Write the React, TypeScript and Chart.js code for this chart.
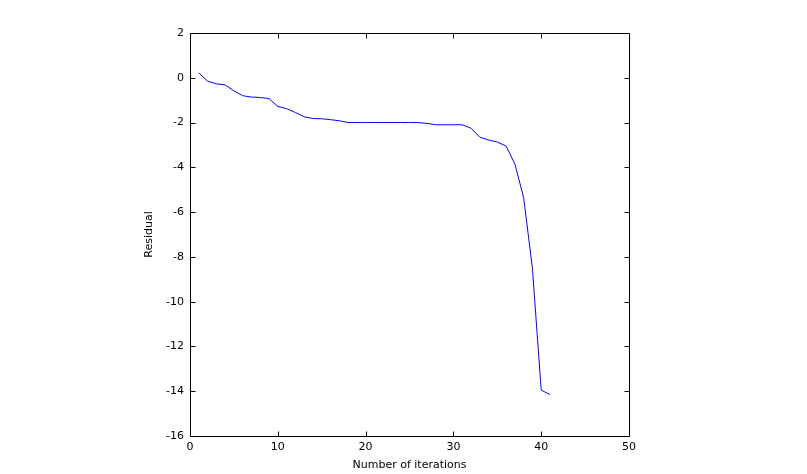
import React, { useEffect, useRef } from "react";
import { Chart, registerables } from "chart.js";

Chart.register(...registerables);

const iterations: number[] = [
  1, 2, 3, 4, 5, 6, 7, 8, 9, 10, 11, 12, 13, 14, 15, 16, 17, 18, 19, 20, 21,
  22, 23, 24, 25, 26, 27, 28, 29, 30, 31, 32, 33, 34, 35, 36, 37, 38, 39, 40, 41,
];
const residuals: number[] = [
  0.22, -0.15, -0.27, -0.32, -0.58, -0.8, -0.86, -0.88, -0.93, -1.28, -1.38,
  -1.55, -1.74, -1.82, -1.83, -1.87, -1.92, -2.0, -2.0, -2.0, -2.0, -2.0, -2.0,
  -2.0, -2.0, -2.0, -2.04, -2.1, -2.1, -2.1, -2.1, -2.25, -2.65, -2.78, -2.87,
  -3.05, -3.85, -5.35, -8.5, -13.95, -14.15,
];
const xTicks = { min: 0, max: 50, step: 10 };
const yTicks = { min: -16, max: 2, step: 2 };
const xTitle = "Number of iterations";
const yTitle = "Residual";

const FONT = "'DejaVu Sans', sans-serif";

const boxPlugin = {
  id: "matlabBox",
  afterDatasetsDraw(chart: any) {
    const { ctx, chartArea, scales } = chart;
    const l = Math.round(chartArea.left) + 0.5;
    const r = Math.round(chartArea.right) + 0.5;
    const t = Math.round(chartArea.top) + 0.5;
    const b = Math.round(chartArea.bottom) + 0.5;
    const len = 5;
    ctx.save();
    ctx.strokeStyle = "#000";
    ctx.lineWidth = 1;
    ctx.beginPath();
    ctx.rect(l, t, r - l, b - t);
    scales.x.ticks.forEach((tk: any) => {
      const px = Math.round(scales.x.getPixelForValue(tk.value)) + 0.5;
      ctx.moveTo(px, b);
      ctx.lineTo(px, b - len);
      ctx.moveTo(px, t);
      ctx.lineTo(px, t + len);
    });
    scales.y.ticks.forEach((tk: any) => {
      const py = Math.round(scales.y.getPixelForValue(tk.value)) + 0.5;
      ctx.moveTo(l, py);
      ctx.lineTo(l + len, py);
      ctx.moveTo(r, py);
      ctx.lineTo(r - len, py);
    });
    ctx.stroke();
    ctx.restore();
  },
};

export default function App() {
  const ref = useRef<HTMLCanvasElement | null>(null);
  useEffect(() => {
    if (!ref.current) return;
    const points = iterations.map((x, i) => ({ x, y: residuals[i] }));
    const chart = new Chart(ref.current, {
      type: "line",
      data: {
        datasets: [
          {
            data: points,
            borderColor: "#0000ff",
            borderWidth: 1,
            pointRadius: 0,
            tension: 0,
            fill: false,
          },
        ],
      },
      options: {
        responsive: false,
        animation: false,
        events: [],
        layout: { padding: { left: 0, right: 178, top: 33, bottom: 0 } },
        plugins: { legend: { display: false }, tooltip: { enabled: false } },
        scales: {
          x: {
            type: "linear",
            min: xTicks.min,
            max: xTicks.max,
            grid: { display: false, drawTicks: false },
            border: { display: false },
            ticks: {
              stepSize: xTicks.step,
              color: "#000",
              font: { family: FONT, size: 11 },
              padding: 5,
              maxRotation: 0,
              callback: (v: any) => String(v),
            },
            title: {
              display: true,
              text: xTitle,
              color: "#000",
              font: { family: FONT, size: 11 },
              padding: { top: 0, bottom: 2 },
            },
            afterFit: (s: any) => {
              s.height = 38;
            },
          },
          y: {
            type: "linear",
            min: yTicks.min,
            max: yTicks.max,
            grid: { display: false, drawTicks: false },
            border: { display: false },
            ticks: {
              stepSize: yTicks.step,
              color: "#000",
              font: { family: FONT, size: 11 },
              padding: 6,
              callback: (v: any) => String(v),
            },
            title: {
              display: true,
              text: yTitle,
              color: "#000",
              font: { family: FONT, size: 11 },
              padding: { top: 143, bottom: 0 },
            },
            afterFit: (s: any) => {
              s.width = 190;
            },
          },
        },
      },
      plugins: [boxPlugin],
    });
    return () => chart.destroy();
  }, []);
  return (
    <div style={{ position: "absolute", left: 0, top: 0, width: 807, height: 474, background: "#fff" }}>
      <canvas ref={ref} width={807} height={474} style={{ display: "block" }} />
    </div>
  );
}
